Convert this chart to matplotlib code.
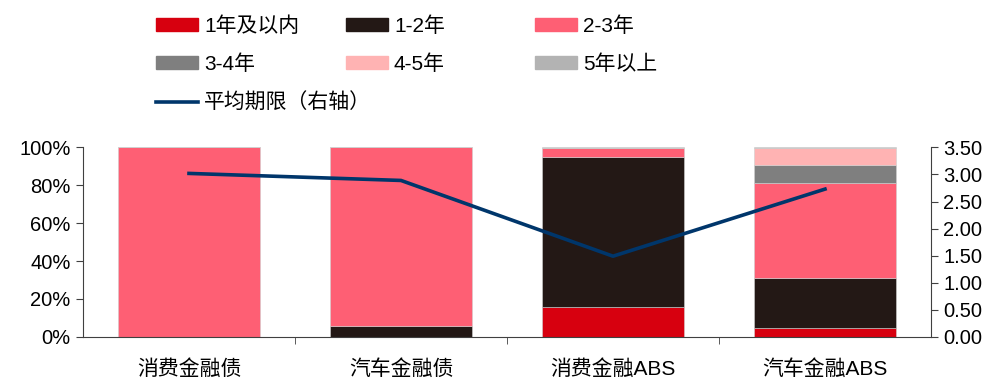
import matplotlib
matplotlib.use("Agg")
import matplotlib.pyplot as plt
import matplotlib.patches as mpatches
import matplotlib.lines as mlines
from matplotlib.ticker import FuncFormatter, FixedLocator
import numpy as np

plt.rcParams['font.family'] = ['Liberation Sans', 'Noto Sans CJK SC', 'DejaVu Sans']
plt.rcParams['axes.unicode_minus'] = False

# 各类产品的期限结构（占比，%）与平均期限（年）
categories = ['消费金融债', '汽车金融债', '消费金融ABS', '汽车金融ABS']
term_labels = ['1年及以内', '1-2年', '2-3年', '3-4年', '4-5年', '5年以上']
share_within_1y = [0.0, 0.0, 15.7, 4.6]
share_1_2y = [0.0, 5.8, 79.2, 26.4]
share_2_3y = [100.0, 94.2, 4.6, 50.3]
share_3_4y = [0.0, 0.0, 0.0, 9.3]
share_4_5y = [0.0, 0.0, 0.0, 8.9]
share_over_5y = [0.0, 0.0, 0.5, 0.5]
avg_term = [3.02, 2.89, 1.49, 2.73]

colors = ['#D7000F', '#231815', '#FE5F74', '#7F7F7F', '#FFB3B3', '#B3B3B3']
line_color = '#00366B'

series = [share_within_1y, share_1_2y, share_2_3y, share_3_4y, share_4_5y, share_over_5y]

fig = plt.figure(figsize=(10, 3.81), dpi=100)
ax = fig.add_axes([0.083, 0.116, 0.848, 0.497])
ax2 = ax.twinx()

x = np.arange(len(categories))
bottom = np.zeros(len(categories))
for vals, c in zip(series, colors):
    v = np.array(vals) / 100.0
    ax.bar(x, v, width=0.67, bottom=bottom, color=c, edgecolor='#D0D0D0', linewidth=0.4, zorder=2)
    bottom += v

ax2.plot(x, avg_term, color=line_color, linewidth=2.6, zorder=3)

# 坐标轴设置
ax.set_xlim(-0.5, 3.5)
ax.set_ylim(0, 1.0)
ax.set_yticks(np.arange(0, 1.01, 0.2))
ax.yaxis.set_major_formatter(FuncFormatter(lambda v, _: f'{v*100:.0f}%'))
ax2.set_ylim(0, 3.5)
ax2.set_yticks(np.arange(0, 3.51, 0.5))
ax2.yaxis.set_major_formatter(FuncFormatter(lambda v, _: f'{v:.2f}'))

ax.set_xticks(x)
ax.set_xticklabels(categories, fontsize=15)
ax.tick_params(axis='x', length=0, pad=16)
ax.xaxis.set_minor_locator(FixedLocator([0.5, 1.5, 2.5]))
ax.tick_params(axis='x', which='minor', length=5, direction='out', color='#404040')
ax.tick_params(axis='y', labelsize=14.5, length=5, direction='out', color='#404040', pad=4)
ax2.tick_params(axis='y', labelsize=14.5, length=5, direction='out', color='#404040', pad=4)

for a in (ax, ax2):
    a.spines['top'].set_visible(False)
    for s in ('left', 'right', 'bottom'):
        a.spines[s].set_color('#404040')
        a.spines[s].set_linewidth(0.8)
ax.spines['right'].set_visible(False)
ax2.spines['left'].set_visible(False)
ax2.spines['bottom'].set_visible(False)

# 图例：三列手动放置
handles = [mpatches.Patch(color=c, label=l) for c, l in zip(colors, term_labels)]
line_handle = mlines.Line2D([], [], color=line_color, linewidth=2.6, label='平均期限（右轴）')
columns = [
    ([handles[0], handles[3], line_handle], 0.156),
    ([handles[1], handles[4]], 0.346),
    ([handles[2], handles[5]], 0.535),
]
for hs, xpos in columns:
    fig.legend(handles=hs, loc='upper left', bbox_to_anchor=(xpos, 1 - 16 / 381), frameon=False,
               fontsize=15, handlelength=2.0, handleheight=0.55, handletextpad=0.3,
               labelspacing=0.9, borderpad=0, borderaxespad=0)

fig.savefig('out.png', dpi=100, facecolor='white')
